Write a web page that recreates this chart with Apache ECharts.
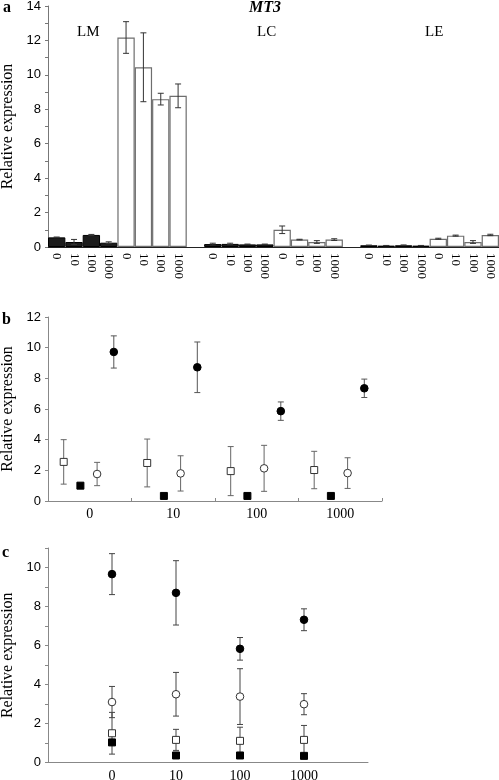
<!DOCTYPE html>
<html><head><meta charset="utf-8">
<script src="https://cdn.jsdelivr.net/npm/echarts@6/dist/echarts.min.js"></script>
<style>html,body{margin:0;padding:0;background:#fff}#c{width:499px;height:780px}</style>
</head><body><div id="c"></div>
<script>
// ---- Panel a (bars) ----
const tissues = ['LM', 'LC', 'LE'];
const doses = ['0', '10', '100', '1000'];
const aDark = [0.56, 0.29, 0.70, 0.25, 0.17, 0.18, 0.15, 0.15, 0.10, 0.08, 0.10, 0.08];
const aDarkErr = [0.02, 0.15, 0.03, 0.05, 0.05, 0.04, 0.02, 0.02, 0.01, 0.01, 0.02, 0.01];
const aWhite = [12.17, 10.44, 8.59, 8.78, 1.00, 0.43, 0.29, 0.43, 0.48, 0.66, 0.29, 0.70];
const aWhiteErr = [0.92, 2.00, 0.34, 0.69, 0.22, 0.02, 0.08, 0.05, 0.03, 0.03, 0.08, 0.04];
const aTicks = [0, 2, 4, 6, 8, 10, 12, 14];

// ---- Panel b ----
const bOpenSq = [2.55, 2.48, 1.95, 2.02];
const bOpenSqErr = [1.45, 1.56, 1.60, 1.22];
const bFillSq = [1.00, 0.33, 0.33, 0.33];
const bFillSqErr = [0, 0, 0, 0];
const bOpenCi = [1.76, 1.80, 2.13, 1.82];
const bOpenCiErr = [0.76, 1.15, 1.50, 1.00];
const bFillCi = [9.72, 8.72, 5.86, 7.35];
const bFillCiErr = [1.05, 1.65, 0.60, 0.60];

// ---- Panel c ----
const cFillCi = [9.66, 8.70, 5.83, 7.32];
const cFillCiErr = [1.05, 1.65, 0.58, 0.56];
const cOpenCi = [3.10, 3.50, 3.38, 2.99];
const cOpenCiErr = [0.80, 1.12, 1.43, 0.54];
const cOpenSq = [1.50, 1.16, 1.11, 1.16];
const cOpenSqErr = [1.07, 0.54, 0.70, 0.74];
const cFillSq = [1.03, 0.36, 0.36, 0.34];
const cFillSqErr = [0, 0, 0, 0];

// build panel a categories (with a spacer slot between tissues)
const aCats = [];
const aBars = [];
const aErrs = [];
tissues.forEach((t, ti) => {
  [['dark', aDark, aDarkErr], ['white', aWhite, aWhiteErr]].forEach(([kind, vals, errs]) => {
    doses.forEach((d, di) => {
      const k = ti * 4 + di;
      const idx = aCats.length;
      aCats.push(d);
      aBars.push({
        value: [idx, vals[k]],
        itemStyle: kind === 'dark'
          ? { color: '#1c1c1c', borderColor: '#000', borderWidth: 1 }
          : { color: '#fff', borderColor: '#6e6e6e', borderWidth: 1.2 }
      });
      aErrs.push([idx, vals[k], errs[k]]);
    });
  });
  if (ti < tissues.length - 1) aCats.push('');
});

const serif = '"Liberation Serif", "DejaVu Serif", serif';
const sans = '"Liberation Sans", Arial, sans-serif';

function errRender(color) {
  return function (params, api) {
    const x = api.value(0), y = api.value(1), e = api.value(2);
    const t = api.coord([x, y + e]), b = api.coord([x, y - e]);
    const cx = t[0];
    const st = { stroke: color, lineWidth: 1 };
    return {
      type: 'group', children: [
        { type: 'line', shape: { x1: cx, y1: t[1], x2: cx, y2: b[1] }, style: st },
        { type: 'line', shape: { x1: cx - 3, y1: t[1], x2: cx + 3, y2: t[1] }, style: st },
        { type: 'line', shape: { x1: cx - 3, y1: b[1], x2: cx + 3, y2: b[1] }, style: st }
      ]
    };
  };
}

function markerSeries(xi, yi, vals, errs, shape, filled, j, dodge, errColor) {
  return {
    type: 'custom', xAxisIndex: xi, yAxisIndex: yi,
    data: vals.map((v, i) => [i, v, errs[i]]),
    renderItem: function (params, api) {
      const x = api.value(0), y = api.value(1), e = api.value(2);
      let dx = 0;
      if (dodge) dx = ((j - 1.5) * 0.2 - 0.012) * api.size([1, 0])[0];
      const c = api.coord([x, y]);
      const px = c[0] + dx;
      const ch = [];
      if (e > 0) {
        const t = api.coord([x, y + e]), b = api.coord([x, y - e]);
        const st = { stroke: errColor, lineWidth: 1 };
        ch.push({ type: 'line', shape: { x1: px, y1: t[1], x2: px, y2: b[1] }, style: st });
        ch.push({ type: 'line', shape: { x1: px - 3, y1: t[1], x2: px + 3, y2: t[1] }, style: st });
        ch.push({ type: 'line', shape: { x1: px - 3, y1: b[1], x2: px + 3, y2: b[1] }, style: st });
      }
      const ms = { fill: filled ? '#000' : '#fff', stroke: filled ? '#000' : '#333', lineWidth: 1 };
      if (shape === 'rect') {
        ch.push({ type: 'rect', shape: { x: px - 3.5, y: c[1] - 3.5, width: 7, height: 7 }, style: ms });
      } else {
        ch.push({ type: 'circle', shape: { cx: px, cy: c[1], r: 3.8 }, style: ms });
      }
      return { type: 'group', children: ch };
    }
  };
}

const yName = {
  name: 'Relative expression', nameLocation: 'middle', nameGap: 31,
  nameTextStyle: { fontFamily: serif, fontSize: 16, color: '#000' }
};
const yLabel = { fontFamily: sans, fontSize: 13, color: '#000', margin: 7 };

const chart = echarts.init(document.getElementById('c'), null, { renderer: 'canvas' });
chart.setOption({
  animation: false,
  backgroundColor: '#fff',
  grid: [
    { left: 48, top: 6, width: 451, height: 241, outerBoundsMode: 'none', containLabel: false },
    { left: 48, top: 317, width: 334, height: 184, outerBoundsMode: 'none', containLabel: false },
    { left: 48, top: 548, width: 320, height: 214.5, outerBoundsMode: 'none', containLabel: false }
  ],
  xAxis: [
    {
      gridIndex: 0, type: 'category', data: aCats, boundaryGap: true,
      axisLine: { lineStyle: { color: '#222', width: 1 } },
      axisTick: { show: false },
      axisLabel: { interval: 0, rotate: -90, fontFamily: serif, fontSize: 13, color: '#000', margin: 6 }
    },
    {
      gridIndex: 1, type: 'category', data: doses, boundaryGap: true,
      axisLine: { lineStyle: { color: '#888', width: 1 } },
      axisTick: { show: true, inside: true, length: 3, lineStyle: { color: '#888' } },
      axisLabel: { fontFamily: serif, fontSize: 14, color: '#000', margin: 6 }
    },
    {
      gridIndex: 2, type: 'value', min: -1, max: 4, interval: 1,
      axisLine: { show: true, onZero: false, lineStyle: { color: '#888', width: 1 } },
      axisTick: { show: false }, splitLine: { show: false },
      axisLabel: {
        fontFamily: serif, fontSize: 14, color: '#000', margin: 7,
        formatter: v => (doses[v] !== undefined ? doses[v] : '')
      }
    }
  ],
  yAxis: [
    Object.assign({
      gridIndex: 0, type: 'value', min: 0, max: 14, interval: 1,
      axisLine: { show: true, onZero: false, lineStyle: { color: '#777' } },
      axisTick: { show: true, length: 3, lineStyle: { color: '#777' } },
      splitLine: { show: false },
      axisLabel: Object.assign({ formatter: v => (aTicks.indexOf(v) >= 0 ? String(v) : '') }, yLabel)
    }, yName),
    Object.assign({
      gridIndex: 1, type: 'value', min: 0, max: 12, interval: 2,
      axisLine: { show: true, onZero: false, lineStyle: { color: '#888' } },
      axisTick: { show: true, length: 3, lineStyle: { color: '#888' } },
      splitLine: { show: false },
      axisLabel: yLabel
    }, yName),
    Object.assign({
      gridIndex: 2, type: 'value', min: 0, max: 11, interval: 1,
      axisLine: { show: true, onZero: false, lineStyle: { color: '#888' } },
      axisTick: { show: true, length: 3, lineStyle: { color: '#888' } },
      splitLine: { show: false },
      axisLabel: Object.assign({ formatter: v => (v % 2 === 0 && v <= 10 ? String(v) : '') }, yLabel)
    }, yName)
  ],
  graphic: [
    { type: 'text', left: 3, top: 0, style: { text: 'a', font: 'bold 16px ' + serif, fill: '#000' } },
    { type: 'text', left: 249, top: 0, style: { text: 'MT3', font: 'italic bold 16px ' + serif, fill: '#000' } },
    { type: 'text', left: 77, top: 25, style: { text: tissues[0], font: '15px ' + serif, fill: '#000' } },
    { type: 'text', left: 257, top: 25, style: { text: tissues[1], font: '15px ' + serif, fill: '#000' } },
    { type: 'text', left: 425, top: 25, style: { text: tissues[2], font: '15px ' + serif, fill: '#000' } },
    { type: 'text', left: 2, top: 312, style: { text: 'b', font: 'bold 16px ' + serif, fill: '#000' } },
    { type: 'text', left: 2, top: 545, style: { text: 'c', font: 'bold 16px ' + serif, fill: '#000' } }
  ],
  series: [
    {
      type: 'bar', xAxisIndex: 0, yAxisIndex: 0, data: aBars,
      barWidth: '100%', barCategoryGap: '0%', encode: { x: 0, y: 1 }
    },
    {
      type: 'custom', xAxisIndex: 0, yAxisIndex: 0, data: aErrs,
      renderItem: errRender('#333'), z: 5
    },
    markerSeries(1, 1, bOpenSq, bOpenSqErr, 'rect', false, 0, true, '#666'),
    markerSeries(1, 1, bFillSq, bFillSqErr, 'rect', true, 1, true, '#666'),
    markerSeries(1, 1, bOpenCi, bOpenCiErr, 'circle', false, 2, true, '#666'),
    markerSeries(1, 1, bFillCi, bFillCiErr, 'circle', true, 3, true, '#555'),
    markerSeries(2, 2, cOpenSq, cOpenSqErr, 'rect', false, 0, false, '#444'),
    markerSeries(2, 2, cOpenCi, cOpenCiErr, 'circle', false, 1, false, '#444'),
    markerSeries(2, 2, cFillCi, cFillCiErr, 'circle', true, 2, false, '#444'),
    markerSeries(2, 2, cFillSq, cFillSqErr, 'rect', true, 3, false, '#444')
  ]
});
</script>
</body></html>
